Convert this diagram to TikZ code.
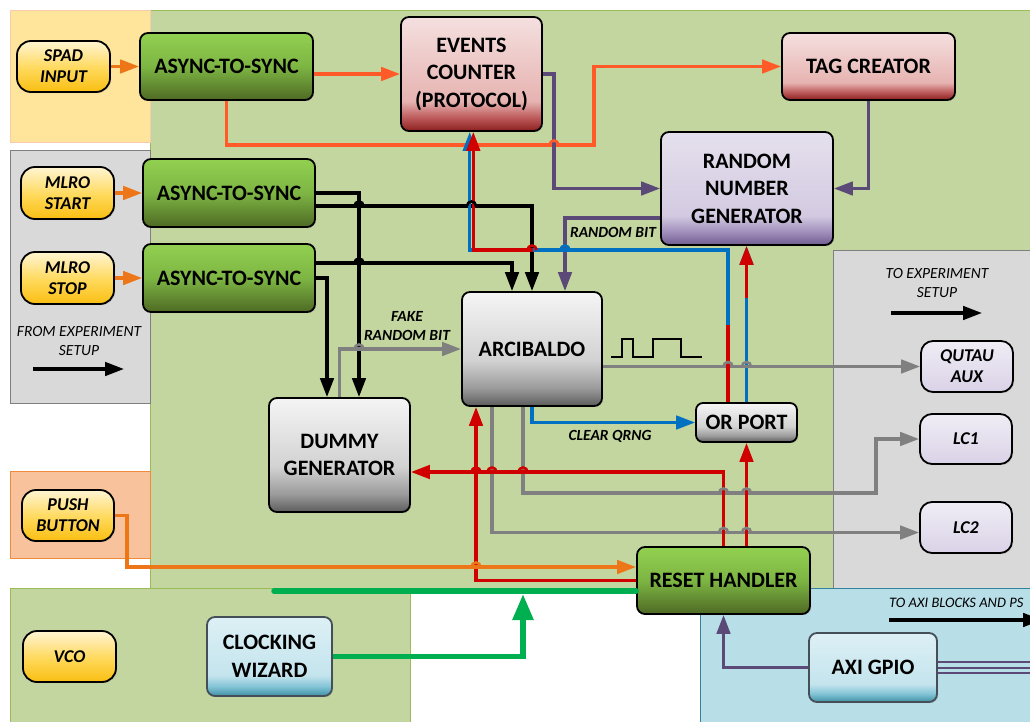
\documentclass[tikz,border=0pt]{standalone}
\usepackage{fontspec}
\setmainfont{Carlito}
\usetikzlibrary{arrows.meta,calc,shadows}

% region fills
\definecolor{rgGreen}{HTML}{C4D69F}
\definecolor{rgGreenLn}{HTML}{9BBB59}
\definecolor{rgYellow}{HTML}{FFE59B}
\definecolor{rgYellowLn}{HTML}{F8CBAD}
\definecolor{rgGray}{HTML}{D9D9D9}
\definecolor{rgGrayLn}{HTML}{7F7F7F}
\definecolor{rgPeach}{HTML}{F8C39C}
\definecolor{rgPeachLn}{HTML}{F08A3C}
\definecolor{rgBlue}{HTML}{B8DEE8}
\definecolor{rgBlueLn}{HTML}{31849B}
% wire colours
\definecolor{wOrange}{HTML}{EC7618}
\definecolor{wSpad}{HTML}{FF5A28}
\definecolor{wPurple}{HTML}{5B4A78}
\definecolor{wRed}{HTML}{D00000}
\definecolor{wBlue}{HTML}{0070C0}
\definecolor{wGray}{HTML}{808080}
\definecolor{wGreen}{HTML}{00B050}
% block shading colours
\definecolor{lRed}{HTML}{F4E0DF}\definecolor{pRed}{HTML}{E6B3B1}
\definecolor{mRed}{HTML}{BE5C5C}\definecolor{dRed}{HTML}{8B1E1E}
\definecolor{lPur}{HTML}{E5E0ED}\definecolor{pPur}{HTML}{D3CAE1}
\definecolor{mPur}{HTML}{A290BD}\definecolor{dPur}{HTML}{705C90}
\definecolor{lCy}{HTML}{DDF0F5}\definecolor{pCy}{HTML}{C4E4ED}
\definecolor{mCy}{HTML}{82C4D6}\definecolor{dCy}{HTML}{3E8FA5}
\definecolor{lGy}{HTML}{F5F5F5}\definecolor{pGy}{HTML}{D2D2D2}
\definecolor{mGy}{HTML}{9C9C9C}\definecolor{dGy}{HTML}{5C5C5C}
\definecolor{lGr}{HTML}{92D050}\definecolor{pGr}{HTML}{7DB543}
\definecolor{dGr}{HTML}{4E6A24}
\definecolor{lYe}{HTML}{FFF5D2}\definecolor{qYe}{HTML}{FFE9A2}
\definecolor{pYe}{HTML}{FFD95A}\definecolor{dYe}{HTML}{F9BE12}
\definecolor{lLv}{HTML}{F0EDF5}\definecolor{dLv}{HTML}{DAD2E7}

\pgfdeclareverticalshading{shRed}{100bp}{color(0bp)=(dRed);color(25bp)=(dRed);color(31bp)=(mRed);color(38bp)=(pRed);color(75bp)=(lRed);color(100bp)=(lRed)}
\pgfdeclareverticalshading{shPur}{100bp}{color(0bp)=(dPur);color(25bp)=(dPur);color(31bp)=(mPur);color(38bp)=(pPur);color(75bp)=(lPur);color(100bp)=(lPur)}
\pgfdeclareverticalshading{shCy}{100bp}{color(0bp)=(dCy);color(25bp)=(dCy);color(31bp)=(mCy);color(38bp)=(pCy);color(75bp)=(lCy);color(100bp)=(lCy)}
\pgfdeclareverticalshading{shGy}{100bp}{color(0bp)=(dGy);color(25bp)=(dGy);color(33bp)=(mGy);color(45bp)=(pGy);color(75bp)=(lGy);color(100bp)=(lGy)}
\pgfdeclareverticalshading{shGr}{100bp}{color(0bp)=(dGr);color(25bp)=(dGr);color(50bp)=(pGr);color(75bp)=(lGr);color(100bp)=(lGr)}
\pgfdeclareverticalshading{shYe}{100bp}{color(0bp)=(dYe);color(25bp)=(dYe);color(48bp)=(pYe);color(64bp)=(qYe);color(75bp)=(lYe);color(100bp)=(lYe)}
\pgfdeclareverticalshading{shLv}{100bp}{color(0bp)=(dLv);color(25bp)=(dLv);color(75bp)=(lLv);color(100bp)=(lLv)}

\newcommand\bxfont{\fontsize{22}{27.5}\selectfont\bfseries}
\newcommand\pillfont{\fontsize{18}{21}\selectfont\bfseries\itshape}
\newcommand\lblfont{\fontsize{15.5}{19}\selectfont\bfseries\itshape}
\newcommand\notefont{\fontsize{15.5}{18.5}\selectfont\itshape}

\begin{document}
\begin{tikzpicture}[x=1pt,y=-1pt,
  >={Triangle[length=19pt,width=13.5pt]},
  region/.style={line width=0.8pt},
  box/.style={draw=black, line width=1.8pt, rounded corners=8pt, inner sep=0pt,
    align=center, font=\bxfont,
    drop shadow={opacity=0.25,shadow xshift=1.2pt,shadow yshift=-1.2pt}},
  pill/.style={box, rounded corners=14pt, font=\pillfont, shading=shYe},
  sync/.style={box, shading=shGr},
  redbox/.style={box, shading=shRed},
  purbox/.style={box, shading=shPur},
  grybox/.style={box, shading=shGy},
  lavbox/.style={box, rounded corners=12pt, font=\pillfont, shading=shLv},
  cyanbox/.style={box, draw=cyan!25!black, shading=shCy},
  wire/.style={line width=3.2pt},
  owire/.style={wire, wOrange},
  swire/.style={wire, wSpad},
  pwire/.style={wire, wPurple},
  kwire/.style={wire, black},
  rwire/.style={wire, wRed},
  bwire/.style={wire, wBlue},
  gwire/.style={wire, wGray},
  clkwire/.style={line width=5.5pt, wGreen},
  hopline/.style={line width=2.6pt},
]
\useasboundingbox (0,0) rectangle (1030,722);
\fill[white] (0,0) rectangle (1030,722);

% ---- background regions ----
\draw[region, fill=rgGreen, draw=rgGreenLn] (150,10) rectangle (1040,588);
\draw[region, fill=rgGray, draw=rgGrayLn] (833,250) rectangle (1040,588);
\draw[region, fill=rgYellow, draw=rgYellowLn] (10,10) rectangle (150,142);
\draw[region, fill=rgGray, draw=rgGrayLn] (10,150) rectangle (150,403);
\draw[region, fill=rgPeach, draw=rgPeachLn] (10,471) rectangle (150,558);
\draw[region, fill=rgGreen, draw=rgGreenLn] (10,588) rectangle (410,730);
\draw[region, fill=rgBlue, draw=rgBlueLn] (700,588) rectangle (1040,730);

% ---- blocks ----
\node[pill, minimum width=93pt, minimum height=51pt] (spad) at (63.5,66.5) {SPAD\\INPUT};
\node[pill, minimum width=93pt, minimum height=52pt] (mstart) at (67.5,193) {MLRO\\START};
\node[pill, minimum width=93pt, minimum height=52pt] (mstop) at (67.5,278) {MLRO\\STOP};
\node[pill, minimum width=92pt, minimum height=51pt] (push) at (68,515.5) {PUSH\\BUTTON};
\node[pill, minimum width=93pt, minimum height=51pt] (vco) at (69.5,656.5) {VCO};

\node[sync, minimum width=173pt, minimum height=67pt] (a1) at (226.5,66.5) {ASYNC-TO-SYNC};
\node[sync, minimum width=172pt, minimum height=68pt] (a2) at (229,193) {ASYNC-TO-SYNC};
\node[sync, minimum width=172pt, minimum height=68pt] (a3) at (229,278) {ASYNC-TO-SYNC};
\node[sync, minimum width=173pt, minimum height=67pt] (rst) at (723.5,580.5) {RESET HANDLER};

\node[redbox, minimum width=141pt, minimum height=114pt] (ec) at (471.5,74) {EVENTS\\COUNTER\\(PROTOCOL)};
\node[redbox, minimum width=173pt, minimum height=67pt] (tag) at (868.5,66.5) {TAG CREATOR};
\node[purbox, minimum width=172pt, minimum height=113pt] (rng) at (747,188.5) {RANDOM\\NUMBER\\GENERATOR};

\node[grybox, minimum width=140pt, minimum height=114pt] (arc) at (532,349) {ARCIBALDO};
\node[grybox, minimum width=141pt, minimum height=114pt] (dum) at (339.5,455) {DUMMY\\GENERATOR};
\node[grybox, minimum width=101pt, minimum height=39pt, rounded corners=7pt] (orp) at (746.5,422.5) {OR PORT};

\node[lavbox, minimum width=92pt, minimum height=51pt] (qutau) at (967,366.5) {QUTAU\\AUX};
\node[lavbox, minimum width=92pt, minimum height=50pt] (lc1) at (966,439) {LC1};
\node[lavbox, minimum width=92pt, minimum height=51pt] (lc2) at (966,527.5) {LC2};

\node[cyanbox, minimum width=125pt, minimum height=79pt] (clk) at (269.5,656.5) {CLOCKING\\WIZARD};
\node[cyanbox, minimum width=128pt, minimum height=69pt] (axi) at (873,667.5) {AXI GPIO};

% ---- bend points ----
\coordinate (kTag) at (594,145);
\coordinate (kEc) at (554,145);
\coordinate (kRb) at (565,218);
\coordinate (kSt) at (359,192);
\coordinate (kLc1) at (876,493);
\coordinate (kRngR) at (747,298);
\coordinate (kBus) at (600,250);
\coordinate (kOrR) at (728,325);
\coordinate (kEcR) at (533,250);
\coordinate (kPb) at (127,567);
\coordinate (kClk) at (523,594);
\coordinate (kBusL) at (274,591);

% ---- input wires ----
\draw[owire,->] (spad) -- (a1);
\draw[owire,->] (mstart) -- (a2);
\draw[owire,->] (mstop) -- (a3);

% SPAD path
\draw[swire,->] (a1.east |- ec.west) -- (ec.west);
\draw[swire,->] (a1.south) |- (kTag) |- (tag.west);

% events counter / tag creator into the generator
\draw[pwire,->] (ec.east) -- (ec.east -| kEc) |- (rng.west);
\draw[pwire,->] (tag.south) |- (rng.east);
\draw[pwire,->] (rng.west |- kRb) -- (kRb) -- (kRb |- arc.north);

% MLRO start / stop
\draw[kwire,->] (a2.east) -- (a2.east -| kSt) -- (kSt |- dum.north);
\draw[kwire,->] ([yshift=-13pt]a2.east) -| (arc.north);
\draw[kwire,->] ([yshift=15pt]a3.east) -| ([xshift=-20pt]arc.north);
\draw[kwire,->] (a3.east) -| ([xshift=-12.5pt]dum.north);

% fake random bit
\draw[gwire,->] (dum.north) |- (arc.west);

% clear QRNG and its fan-out
\draw[bwire,->] (arc.south) |- (orp.west);
\draw[bwire,->] (orp.north) -- (orp.north |- rng.south);
\draw[bwire,->] ([xshift=-18.5pt]orp.north) |- (kBus) -| ([xshift=-1.8pt]ec.south);

% outputs to the experiment
\draw[gwire,->] (arc.east |- qutau.west) -- (qutau.west);
\draw[gwire,->] ([xshift=-9pt]arc.south) |- (kLc1) |- (lc1.west);
\draw[gwire,->] ([xshift=-40pt]arc.south) |- ([yshift=-5pt]lc2.west);

% resets
\draw[rwire,->] (orp.north |- kRngR) -- (orp.north |- rng.south);
\draw[rwire] (kOrR) -- ([xshift=-18.5pt]orp.north);
\draw[rwire,->] (kEcR) -| ([xshift=1.8pt]ec.south);
\draw[rwire,->] (rst.north) |- ([yshift=-17pt]dum.east);
\draw[rwire,->] (rst.north -| orp.south) -- (orp.south);
\draw[rwire,->] (rst.west) -| ([xshift=-56pt]arc.south);

% push button
\draw[owire,->] (push.east) -| (kPb) -- ([yshift=13.5pt]rst.west);

% clock
\draw[clkwire, line cap=round] (kBusL) -- (rst.west |- kBusL);
\draw[clkwire, -{Triangle[length=26pt,width=20pt]}] (clk.east) -| (kClk);

% AXI GPIO
\draw[pwire,->] (axi.west) -| (rst.south);
\coordinate (axA) at (1040,662);
\coordinate (axB) at (1040,667.5);
\coordinate (axC) at (1040,673);
\draw[wPurple, line width=2pt] (axi.east |- axA) -- (axA);
\draw[wPurple, line width=2pt] (axi.east) -- (axB);
\draw[wPurple, line width=2pt] (axi.east |- axC) -- (axC);

% ---- line hops ----
\newcommand\hopat[3]{\draw[hopline,#3] (#1-4.5,#2) arc[start angle=180,end angle=0,radius=4.5pt];}
\hopat{359}{206}{black}
\hopat{471.5}{206}{black}
\hopat{359}{263}{black}
\hopat{359}{349}{wGray}
\hopat{554}{145}{wSpad}
\hopat{532}{250}{wRed}
\hopat{565}{250}{wBlue}
\hopat{728}{366.5}{wGray}
\hopat{746.5}{366.5}{wGray}
\hopat{476}{472}{wRed}
\hopat{492}{472}{wRed}
\hopat{523}{472}{wRed}
\hopat{723.5}{493}{wGray}
\hopat{746.5}{493}{wGray}
\hopat{723.5}{532.5}{wGray}
\hopat{746.5}{532.5}{wGray}
\hopat{476}{567}{wOrange}

% ---- waveform ----
\draw[line width=1.3pt, black] (611,357) -- (622,357) -- (622,339) -- (633,339) -- (633,357)
  -- (653,357) -- (653,339) -- (681,339) -- (681,357) -- (702,357);

% ---- labels ----
\node[font=\lblfont] (lrb) at (613,232) {RANDOM BIT};
\node[font=\lblfont, align=center] (lfrb) at (407,326) {FAKE\\RANDOM BIT};
\node[font=\lblfont] (lcq) at (610,436) {CLEAR QRNG};

\node[font=\notefont, align=center] (lfrom) at (79,341) {FROM EXPERIMENT\\SETUP};
\coordinate (fa) at (33,369);
\coordinate (fb) at (124,369);
\draw[kwire,->] (fa) -- (fb);

\node[font=\notefont, align=center] (lto) at (937,283) {TO EXPERIMENT\\SETUP};
\coordinate (ta) at (891,313);
\coordinate (tb) at (982,313);
\draw[kwire,->] (ta) -- (tb);

\node[font=\fontsize{14.5}{17}\selectfont\itshape, anchor=west, inner sep=0pt] (laxi) at (889,603) {TO AXI BLOCKS AND PS};
\coordinate (xa) at (889,620);
\coordinate (xb) at (1042,620);
\draw[kwire,->] (xa) -- (xb);
\end{tikzpicture}
\end{document}
